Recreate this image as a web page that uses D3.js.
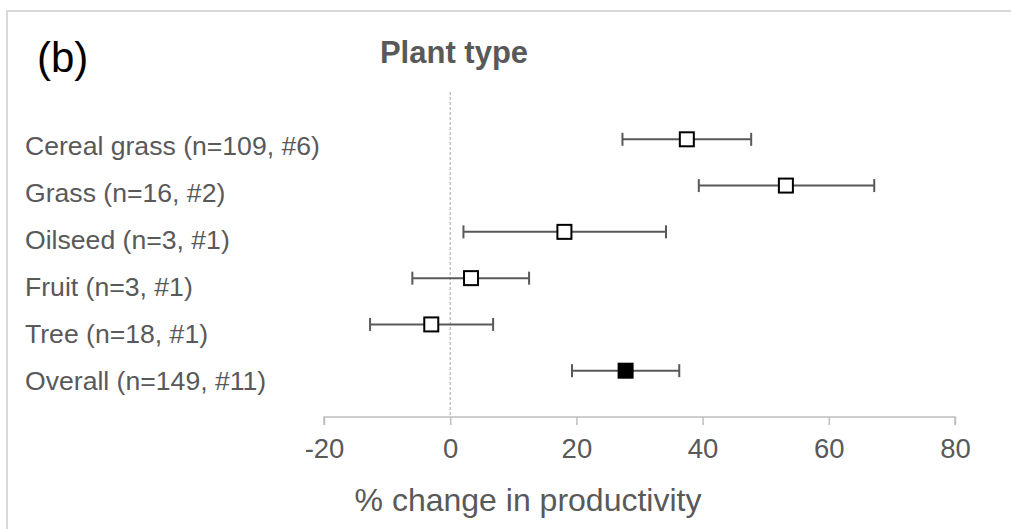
<!DOCTYPE html>
<html>
<head>
<meta charset="utf-8">
<script src="https://cdn.jsdelivr.net/npm/d3@7"></script>
<style>
  body { margin: 0; background: #fff; }
  svg { display: block; font-family: Arial, "Liberation Sans", sans-serif; }
</style>
</head>
<body>
<svg width="1011" height="529"></svg>
<script>
var categories = ["Cereal grass (n=109, #6)", "Grass (n=16, #2)", "Oilseed (n=3, #1)", "Fruit (n=3, #1)", "Tree (n=18, #1)", "Overall (n=149, #11)"];
var means = [37.5, 53.2, 18.1, 3.3, -3.0, 27.8];
var lower = [27.3, 39.4, 2.1, -6.0, -12.7, 19.3];
var upper = [47.7, 67.2, 34.2, 12.5, 6.8, 36.3];
var filled = [false, false, false, false, false, true];
var tickValues = [-20, 0, 20, 40, 60, 80];

window.onload = function(){
    render_chart();
}

function render_chart(){
    var svg = d3.select("svg");

    var data = categories.map(function(c, i) {
        return {label: c, mean: means[i], lo: lower[i], hi: upper[i], filled: filled[i]};
    });

    // outer frame (only top/left visible)
    svg.append("rect")
        .attr("x", 7).attr("y", 11)
        .attr("width", 1100).attr("height", 600)
        .attr("fill", "none")
        .attr("stroke", "#d9d9d9")
        .attr("stroke-width", 2);

    var x = d3.scaleLinear().domain([-20, 80]).range([324, 955]);
    var y = d3.scalePoint().domain(categories).range([139.3, 370.7]);
    var yLab = d3.scalePoint().domain(categories).range([155, 390]);
    var axisY = 417;

    // zero reference line
    svg.append("line")
        .attr("x1", x(0)).attr("x2", x(0))
        .attr("y1", 92).attr("y2", axisY)
        .attr("stroke", "#a6a6a6")
        .attr("stroke-width", 1)
        .attr("stroke-dasharray", "3,2");

    var xAxis = svg.append("g")
        .attr("transform", "translate(0," + axisY + ")")
        .call(d3.axisBottom(x).tickValues(tickValues).tickSize(8).tickPadding(13)
            .tickFormat(function(d) { return String(d); }));
    xAxis.selectAll("path, line").attr("stroke", "#bfbfbf").attr("stroke-width", 1.5);
    xAxis.select(".domain").attr("d", "M" + x(-20) + ",8V0H" + x(80) + "V8");
    xAxis.selectAll("text")
        .attr("fill", "#595959")
        .attr("font-size", 27.5)
        .attr("font-family", "Arial, 'Liberation Sans', sans-serif");

    var rows = svg.append("g").selectAll("g")
        .data(data)
        .enter().append("g");

    rows.append("line")
        .attr("x1", function(d) { return x(d.lo); })
        .attr("x2", function(d) { return x(d.hi); })
        .attr("y1", function(d) { return y(d.label); })
        .attr("y2", function(d) { return y(d.label); })
        .attr("stroke", "#595959").attr("stroke-width", 2);

    rows.selectAll(".cap")
        .data(function(d) { return [{v: d.lo, label: d.label}, {v: d.hi, label: d.label}]; })
        .enter().append("line")
        .attr("class", "cap")
        .attr("x1", function(d) { return x(d.v); })
        .attr("x2", function(d) { return x(d.v); })
        .attr("y1", function(d) { return y(d.label) - 6.5; })
        .attr("y2", function(d) { return y(d.label) + 6.5; })
        .attr("stroke", "#595959").attr("stroke-width", 2);

    rows.append("rect")
        .attr("x", function(d) { return x(d.mean) - 7; })
        .attr("y", function(d) { return y(d.label) - 7; })
        .attr("width", 14).attr("height", 14)
        .attr("fill", function(d) { return d.filled ? "#000" : "#fff"; })
        .attr("stroke", "#000")
        .attr("stroke-width", 2);

    rows.append("text")
        .attr("x", 25)
        .attr("y", function(d) { return yLab(d.label); })
        .attr("font-size", 26.6)
        .attr("fill", "#595959")
        .text(function(d) { return d.label; });

    svg.append("text")
        .attr("x", 37).attr("y", 72)
        .attr("font-size", 42)
        .attr("fill", "#000")
        .text("(b)");

    svg.append("text")
        .attr("x", 454).attr("y", 63)
        .attr("text-anchor", "middle")
        .attr("font-size", 31)
        .attr("font-weight", "bold")
        .attr("fill", "#595959")
        .text("Plant type");

    svg.append("text")
        .attr("x", 528).attr("y", 511)
        .attr("text-anchor", "middle")
        .attr("font-size", 32)
        .attr("fill", "#595959")
        .text("% change in productivity");
}
</script>
</body>
</html>
